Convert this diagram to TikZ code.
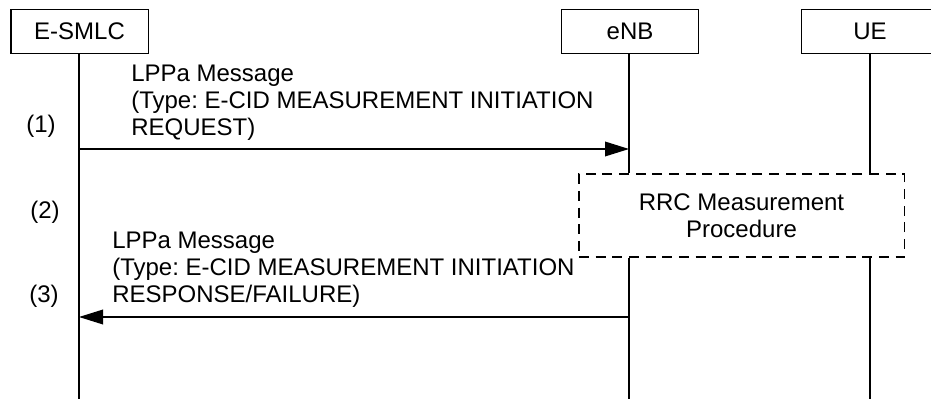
\documentclass[tikz,border=0pt]{standalone}
\usepackage{fontspec}
\setmainfont{Liberation Sans}
\usepackage{tikz}
\usetikzlibrary{positioning, arrows.meta, calc}
\frenchspacing

\begin{document}
\begin{tikzpicture}[
        x=0.75pt, y=-0.75pt,
        font=\fontsize{18}{20}\selectfont,
        box/.style={draw, rectangle, minimum width=103pt, minimum height=33pt, line width=1pt, inner sep=0pt},
        proc/.style={draw, rectangle, minimum width=244pt, minimum height=62pt, align=center, line width=1pt, dash pattern=on 7.5pt off 5pt},
        life/.style={line width=1pt},
        arr/.style={-{Triangle[length=18pt, width=11pt]}, line width=1pt},
        msg/.style={anchor=north west, align=left, inner sep=0pt}
    ]
    \clip (0,0) rectangle (931,399);

    % Nodes
    \node[box] (esmlc) at (79.5,31.5) {E-SMLC};
    \node[box] (enb) at (630,31.5) {eNB};
    \node[box] (ue) at (870,31.5) {UE};
    \node[proc] (rrc) at (741.5,215.5) {RRC Measurement\\Procedure};

    \coordinate (bottom) at (0,399);
    \coordinate (m1) at (0,149);
    \coordinate (m3) at (0,317);

    % Lifelines
    \draw[life] (esmlc.south -| 79,0) -- (bottom -| 79,0);
    \draw[life] (enb.south -| 629,0) -- (rrc.north -| 629,0);
    \draw[life] (rrc.south -| 629,0) -- (bottom -| 629,0);
    \draw[life] (ue.south -| 870,0) -- (rrc.north -| 870,0);
    \draw[life] (rrc.south -| 870,0) -- (bottom -| 870,0);

    % Step labels
    \node[anchor=base] (s1) at (41,133) {(1)};
    \node[anchor=base] (s2) at (45,218) {(2)};
    \node[anchor=base] (s3) at (44,302) {(3)};

    % Messages
    \node[msg] (t1) at (131,65) {LPPa Message\\(Type: E-CID MEASUREMENT INITIATION\\REQUEST)};
    \draw[arr] (m1 -| 79,0) -- (m1 -| 629,0);

    \node[msg] (t3) at (112,232) {LPPa Message\\(Type: E-CID MEASUREMENT INITIATION\\RESPONSE/FAILURE)};
    \draw[arr] (m3 -| 629,0) -- (m3 -| 79,0);

    \end{tikzpicture}
\end{document}
